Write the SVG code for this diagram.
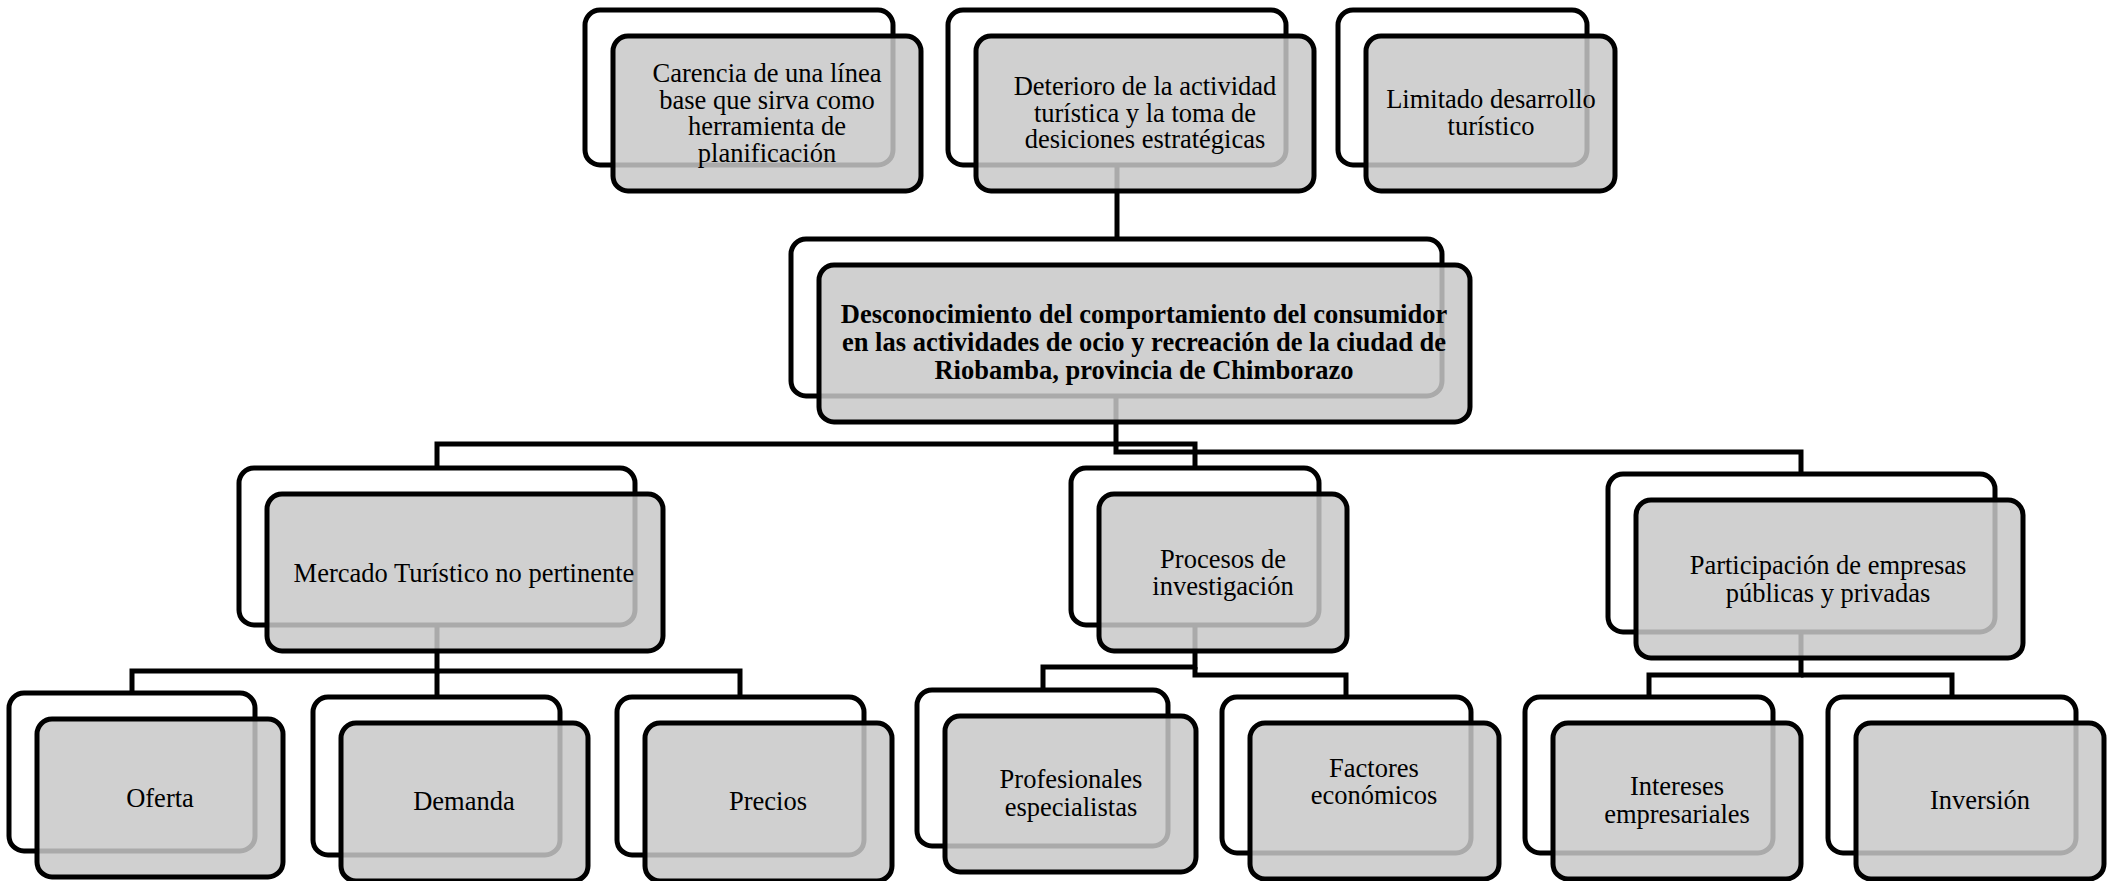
<svg xmlns="http://www.w3.org/2000/svg" width="2117" height="881" viewBox="0 0 2117 881">
<style>
.bk{fill:#fff;stroke:#000;stroke-width:5}
.fr{fill:rgb(200,200,200);fill-opacity:0.85;stroke:#000;stroke-width:5}
.cn{fill:none;stroke:#000;stroke-width:5;stroke-linejoin:miter}
text{font-family:"Liberation Serif","Times New Roman",serif;font-size:26.5px;fill:#000;text-anchor:middle}
.b{font-weight:bold}
</style>
<rect width="2117" height="881" fill="#fff"/>
<g id="connectors">
<path class="cn" d="M1117 165V239"/>
<path class="cn" d="M1116 396V444H437V468"/>
<path class="cn" d="M1116 444H1195V468"/>
<path class="cn" d="M1116 444V452H1801V474"/>
<path class="cn" d="M437 625V671H132V693"/>
<path class="cn" d="M437 671V697"/>
<path class="cn" d="M437 671H740V697"/>
<path class="cn" d="M1195 625V667H1043V690"/>
<path class="cn" d="M1195 667V675H1346V697"/>
<path class="cn" d="M1801 632V675H1649V697"/>
<path class="cn" d="M1801 675H1952V697"/>
</g>
<g id="n-carencia">
<rect class="bk" x="585" y="10" width="308" height="155" rx="15"/>
<rect class="fr" x="613" y="36" width="308" height="155" rx="15"/>
<text x="767" y="81.7">Carencia de una línea</text>
<text x="767" y="108.5">base que sirva como</text>
<text x="767" y="135.3">herramienta de</text>
<text x="767" y="162.2">planificación</text>
</g>
<g id="n-deterioro">
<rect class="bk" x="948" y="10" width="338" height="155" rx="15"/>
<rect class="fr" x="976" y="36" width="338" height="155" rx="15"/>
<text x="1145" y="95">Deterioro de la actividad</text>
<text x="1145" y="121.5">turística y la toma de</text>
<text x="1145" y="148">desiciones estratégicas</text>
</g>
<g id="n-limitado">
<rect class="bk" x="1338" y="10" width="249" height="155" rx="15"/>
<rect class="fr" x="1366" y="36" width="249" height="155" rx="15"/>
<text x="1491" y="108">Limitado desarrollo</text>
<text x="1491" y="135">turístico</text>
</g>
<g id="n-central">
<rect class="bk" x="791" y="239" width="651" height="157" rx="15"/>
<rect class="fr" x="819" y="265" width="651" height="157" rx="15"/>
<text class="b" x="1144" y="323">Desconocimiento del comportamiento del consumidor</text>
<text class="b" x="1144" y="351">en las actividades de ocio y recreación de la ciudad de</text>
<text class="b" x="1144" y="379">Riobamba, provincia de Chimborazo</text>
</g>
<g id="n-mercado">
<rect class="bk" x="239" y="468" width="396" height="157" rx="15"/>
<rect class="fr" x="267" y="494" width="396" height="157" rx="15"/>
<text x="464" y="581.5">Mercado Turístico no pertinente</text>
</g>
<g id="n-procesos">
<rect class="bk" x="1071" y="468" width="248" height="157" rx="15"/>
<rect class="fr" x="1099" y="494" width="248" height="157" rx="15"/>
<text x="1223" y="568">Procesos de</text>
<text x="1223" y="595">investigación</text>
</g>
<g id="n-participacion">
<rect class="bk" x="1608" y="474" width="387" height="158" rx="15"/>
<rect class="fr" x="1636" y="500" width="387" height="158" rx="15"/>
<text x="1828" y="574">Participación de empresas</text>
<text x="1828" y="602">públicas y privadas</text>
</g>
<g id="n-oferta">
<rect class="bk" x="9" y="693" width="246" height="158" rx="15"/>
<rect class="fr" x="37" y="719" width="246" height="158" rx="15"/>
<text x="160" y="807">Oferta</text>
</g>
<g id="n-demanda">
<rect class="bk" x="313" y="697" width="247" height="158" rx="15"/>
<rect class="fr" x="341" y="723" width="247" height="158" rx="15"/>
<text x="464" y="810">Demanda</text>
</g>
<g id="n-precios">
<rect class="bk" x="617" y="697" width="247" height="158" rx="15"/>
<rect class="fr" x="645" y="723" width="247" height="158" rx="15"/>
<text x="768" y="810">Precios</text>
</g>
<g id="n-profesionales">
<rect class="bk" x="917" y="690" width="251" height="156" rx="15"/>
<rect class="fr" x="945" y="716" width="251" height="156" rx="15"/>
<text x="1071" y="788">Profesionales</text>
<text x="1071" y="816">especialistas</text>
</g>
<g id="n-factores">
<rect class="bk" x="1222" y="697" width="249" height="156" rx="15"/>
<rect class="fr" x="1250" y="723" width="249" height="156" rx="15"/>
<text x="1374" y="777">Factores</text>
<text x="1374" y="804">económicos</text>
</g>
<g id="n-intereses">
<rect class="bk" x="1525" y="697" width="248" height="156" rx="15"/>
<rect class="fr" x="1553" y="723" width="248" height="156" rx="15"/>
<text x="1677" y="795">Intereses</text>
<text x="1677" y="823">empresariales</text>
</g>
<g id="n-inversion">
<rect class="bk" x="1828" y="697" width="248" height="156" rx="15"/>
<rect class="fr" x="1856" y="723" width="248" height="156" rx="15"/>
<text x="1980" y="809">Inversión</text>
</g>
</svg>
